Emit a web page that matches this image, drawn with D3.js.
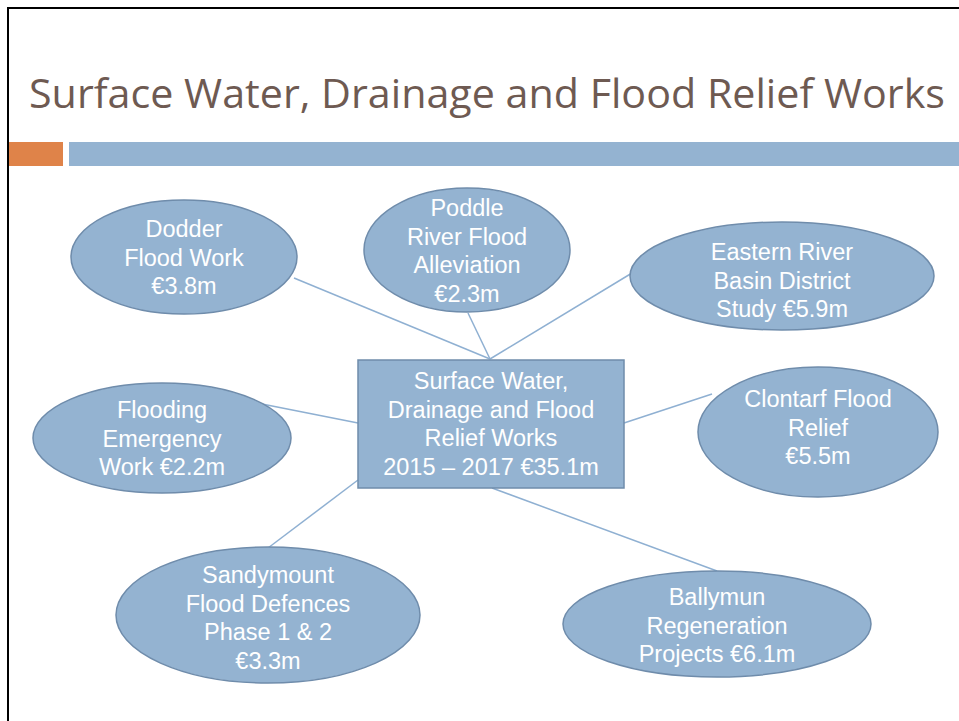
<!DOCTYPE html>
<html>
<head>
<meta charset="utf-8">
<script src="https://cdn.jsdelivr.net/npm/d3@7/dist/d3.min.js"></script>
<style>
  html, body { margin: 0; padding: 0; background: #fff; }
  svg { display: block; }
</style>
</head>
<body>
<script>
// ---- data ----
const slideTitle = "Surface Water, Drainage and Flood Relief Works";
const hubLabel = ["Surface Water,", "Drainage and Flood", "Relief Works", "2015 \u2013 2017 \u20ac35.1m"];
const projectNames = [
  ["Dodder", "Flood Work"],
  ["Poddle", "River Flood", "Alleviation"],
  ["Eastern River", "Basin District", "Study"],
  ["Flooding", "Emergency", "Work"],
  ["Clontarf Flood", "Relief"],
  ["Sandymount", "Flood Defences", "Phase 1 & 2"],
  ["Ballymun", "Regeneration", "Projects"]
];
const projectValues = [3.8, 2.3, 5.9, 2.2, 5.5, 3.3, 6.1]; // € million
const amountOnOwnLine = [true, true, false, false, true, true, false];

// ---- layout (positions/sizes) ----
const W = 959, H = 721;
const ellipseLayout = [
  { cx: 184, cy: 257, rx: 113, ry: 57, ty: 237, hub: [490, 359], edge: [294, 278] },
  { cx: 467, cy: 250, rx: 103, ry: 62, ty: 216, hub: [490, 359], edge: [468, 313] },
  { cx: 782, cy: 276, rx: 152, ry: 54, ty: 260, hub: [490, 359], edge: [632, 273] },
  { cx: 162, cy: 438, rx: 129, ry: 55, ty: 418, hub: [358, 423], edge: [262, 404] },
  { cx: 818, cy: 432, rx: 120, ry: 65, ty: 407, hub: [624, 423], edge: [712, 394] },
  { cx: 268, cy: 615, rx: 152, ry: 68, ty: 583, hub: [358, 480], edge: [268, 548] },
  { cx: 717, cy: 624, rx: 154, ry: 53, ty: 605, hub: [492, 488], edge: [717, 571] }
];
const hubBox = { x: 358, y: 360, w: 266, h: 128, ty: 389 };
const lineStep = 28.7;

const fillCol = "#94b3d1", strokeCol = "#6f8cab", lineCol = "#8fb0d2";

const svg = d3.select("body").append("svg").attr("width", W).attr("height", H);

// slide frame
svg.append("rect").attr("width", W).attr("height", H).attr("fill", "#fff");
svg.append("line").attr("x1", 7).attr("x2", W).attr("y1", 8).attr("y2", 8)
  .attr("stroke", "#000").attr("stroke-width", 2);
svg.append("line").attr("x1", 8).attr("x2", 8).attr("y1", 7).attr("y2", H)
  .attr("stroke", "#000").attr("stroke-width", 2);

// title
svg.append("text").attr("x", 29).attr("y", 108)
  .attr("font-family", "'Open Sans', Lato, sans-serif").attr("font-size", 40)
  .attr("fill", "#6e5a52")
  .attr("textLength", 916).attr("lengthAdjust", "spacingAndGlyphs")
  .text(slideTitle);

// accent bars
svg.append("rect").attr("x", 9).attr("y", 142).attr("width", 54).attr("height", 24).attr("fill", "#df8349");
svg.append("rect").attr("x", 69).attr("y", 142).attr("width", W - 69).attr("height", 24).attr("fill", "#94b3d1");

// labels
const labels = projectNames.map((n, i) => {
  const amt = "\u20ac" + d3.format(".1f")(projectValues[i]) + "m";
  const lines = n.slice();
  if (amountOnOwnLine[i]) lines.push(amt);
  else lines[lines.length - 1] = lines[lines.length - 1] + " " + amt;
  return lines;
});

// connectors
svg.append("g").selectAll("line").data(ellipseLayout).join("line")
  .attr("x1", d => d.hub[0]).attr("y1", d => d.hub[1])
  .attr("x2", d => d.edge[0]).attr("y2", d => d.edge[1])
  .attr("stroke", lineCol).attr("stroke-width", 1.5);

// ellipses
const nodes = svg.append("g").selectAll("g").data(ellipseLayout).join("g");
nodes.append("ellipse")
  .attr("cx", d => d.cx).attr("cy", d => d.cy).attr("rx", d => d.rx).attr("ry", d => d.ry)
  .attr("fill", fillCol).attr("stroke", strokeCol).attr("stroke-width", 1.5);
nodes.append("text")
  .attr("font-family", "'Liberation Sans', Arial, sans-serif").attr("font-size", 23.5)
  .attr("fill", "#fff").attr("text-anchor", "middle")
  .each(function (d, i) {
    d3.select(this).selectAll("tspan").data(labels[i]).join("tspan")
      .attr("x", d.cx).attr("y", (t, j) => d.ty + j * lineStep).text(t => t);
  });

// hub box
svg.append("rect").attr("x", hubBox.x).attr("y", hubBox.y).attr("width", hubBox.w).attr("height", hubBox.h)
  .attr("fill", fillCol).attr("stroke", strokeCol).attr("stroke-width", 1.5);
svg.append("text")
  .attr("font-family", "'Liberation Sans', Arial, sans-serif").attr("font-size", 23.5)
  .attr("fill", "#fff").attr("text-anchor", "middle")
  .selectAll("tspan").data(hubLabel).join("tspan")
  .attr("x", hubBox.x + hubBox.w / 2).attr("y", (t, j) => hubBox.ty + j * lineStep).text(t => t);
</script>
</body>
</html>
